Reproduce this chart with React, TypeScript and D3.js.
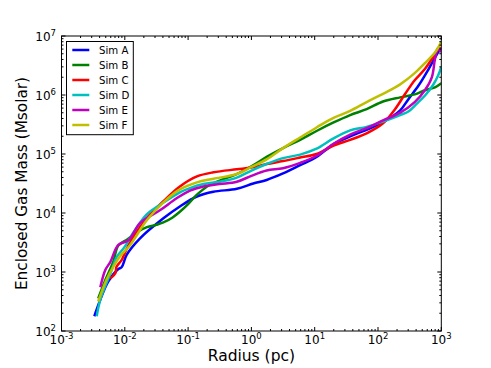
// App.tsx
// enclosed gas mass vs radius for six sims, log-log
import React from 'react';
import * as d3 from 'd3';

const W = 491;
const H = 368;

// Sim A
const radiusA = [0.0033, 0.0041, 0.0055, 0.0079, 0.0089, 0.0107, 0.0174, 0.0407, 0.0741, 0.138, 0.251, 0.589, 1.07, 1.74, 3.16, 5.89, 10.7, 19.5, 36.3, 66.1, 120, 224, 302, 437, 631, 851, 977];
const massA = [178, 339, 692, 1122, 1202, 1950, 3715, 8130, 12900, 19050, 22900, 25700, 31600, 36300, 46800, 64600, 89100, 144500, 199500, 257000, 346700, 549500, 851000, 1445000, 2754000, 4898000, 6310000];

// Sim B
const radiusB = [0.0038, 0.005, 0.0066, 0.0079, 0.0112, 0.0158, 0.0224, 0.0316, 0.0407, 0.0562, 0.0741, 0.1, 0.138, 0.2, 0.316, 0.562, 1, 1.74, 3.16, 5.89, 10.7, 19.5, 36.3, 66.1, 120, 224, 380, 550, 794, 1000];
const massB = [355, 759, 1514, 2818, 3631, 4786, 5754, 6310, 6918, 8318, 10470, 14130, 20420, 28180, 35480, 44670, 61660, 89130, 125900, 173800, 245500, 338800, 457100, 575400, 776200, 912000, 1023000, 1202000, 1349000, 1585000];

// Sim C
const radiusC = [0.0059, 0.0071, 0.0074, 0.0089, 0.01, 0.012, 0.0224, 0.0407, 0.0741, 0.138, 0.251, 0.589, 1, 1.74, 3.16, 5.89, 10.7, 19.5, 36.3, 66.1, 120, 186, 269, 380, 550, 794, 955];
const massC = [776, 955, 1230, 1585, 2089, 3162, 8318, 15850, 28180, 41690, 48980, 54950, 58880, 67610, 75860, 87100, 100000, 138000, 173800, 223900, 331100, 575400, 1047000, 1778000, 2754000, 4898000, 6607000];

// Sim D
const radiusD = [0.0036, 0.0041, 0.0062, 0.0074, 0.01, 0.0135, 0.0224, 0.0363, 0.0741, 0.107, 0.174, 0.316, 0.589, 1, 1.74, 3.16, 5.89, 10.7, 19.5, 36.3, 66.1, 120, 224, 302, 407, 562, 741, 891, 1000];
const massD = [178, 339, 1072, 1778, 2692, 4571, 9550, 13800, 22390, 26300, 30900, 33880, 39810, 52480, 67610, 85110, 97720, 123000, 182000, 251200, 288400, 354800, 457100, 524800, 707900, 1000000, 1479000, 2138000, 2951000];

// Sim E
const radiusE = [0.0041, 0.0049, 0.0059, 0.0079, 0.0115, 0.0174, 0.0363, 0.066, 0.107, 0.174, 0.316, 0.589, 1, 1.74, 3.16, 5.89, 10.7, 19.5, 36.3, 66.1, 120, 224, 380, 550, 708, 794, 871, 912, 977];
const massE = [550, 1072, 1479, 2884, 3467, 6761, 11220, 17780, 23990, 28180, 30900, 33880, 42660, 52480, 57540, 70790, 93330, 147900, 213800, 275400, 371500, 501200, 758600, 1202000, 1995000, 4074000, 6026000, 6310000, 5248000];

// Sim F
const radiusF = [0.0038, 0.0051, 0.0066, 0.0083, 0.012, 0.0224, 0.0407, 0.0741, 0.138, 0.251, 0.589, 1, 1.74, 3.16, 5.89, 10.7, 19.5, 36.3, 66.1, 120, 224, 380, 550, 794, 1000];
const massF = [316, 724, 1230, 1820, 2818, 7586, 15140, 25120, 33110, 38020, 45710, 60260, 81280, 125900, 190500, 281800, 407400, 537000, 758600, 1047000, 1514000, 2344000, 3467000, 5248000, 7943000];

const simNames = ['Sim A', 'Sim B', 'Sim C', 'Sim D', 'Sim E', 'Sim F'];
const simColors = ['#0000ff', '#008000', '#ff0000', '#00bfbf', '#bf00bf', '#bfbf00'];
const radii = [radiusA, radiusB, radiusC, radiusD, radiusE, radiusF];
const masses = [massA, massB, massC, massD, massE, massF];

const xExps = [-3, -2, -1, 0, 1, 2, 3];
const yExps = [2, 3, 4, 5, 6, 7];

const FONT = 'DejaVu Sans, sans-serif';

export default function App() {
  const left = 61.5, right = 441.3, top = 36, bottom = 331;

  const x = d3.scaleLog().domain([1e-3, 1e3]).range([left, right]);
  const y = d3.scaleLog().domain([1e2, 1e7]).range([bottom, top]);

  const line = d3.line<[number, number]>()
    .x(d => x(d[0]))
    .y(d => y(d[1]))
    .curve(d3.curveCatmullRom.alpha(0.5));

  const xMinor = x.ticks().filter(v => !xExps.some(e => Math.abs(Math.log10(v) - e) < 1e-6));
  const yMinor = y.ticks().filter(v => !yExps.some(e => Math.abs(Math.log10(v) - e) < 1e-6));

  const major = 4, minor = 2;

  return (
    <svg width={W} height={H} style={{ position: 'absolute', left: 0, top: 0, background: '#fff' }} fontFamily={FONT}>
      <defs>
        <clipPath id="plotClip">
          <rect x={left} y={top} width={right - left} height={bottom - top} />
        </clipPath>
      </defs>

      {/* curves */}
      <g clipPath="url(#plotClip)">
        {simNames.map((name, i) => (
          <path key={name}
            d={line(radii[i].map((r, j) => [r, masses[i][j]] as [number, number])) || ''}
            fill="none" stroke={simColors[i]} strokeWidth={2.5} strokeLinejoin="round" strokeLinecap="butt" />
        ))}
      </g>

      {/* ticks, inward on all sides */}
      <g stroke="#000" strokeWidth={1}>
        {xExps.map(e => {
          const px = x(Math.pow(10, e));
          return (
            <g key={'xM' + e}>
              <line x1={px} x2={px} y1={bottom} y2={bottom - major} />
              <line x1={px} x2={px} y1={top} y2={top + major} />
            </g>
          );
        })}
        {xMinor.map((v, i) => {
          const px = x(v);
          return (
            <g key={'xm' + i}>
              <line x1={px} x2={px} y1={bottom} y2={bottom - minor} />
              <line x1={px} x2={px} y1={top} y2={top + minor} />
            </g>
          );
        })}
        {yExps.map(e => {
          const py = y(Math.pow(10, e));
          return (
            <g key={'yM' + e}>
              <line x1={left} x2={left + major} y1={py} y2={py} />
              <line x1={right} x2={right - major} y1={py} y2={py} />
            </g>
          );
        })}
        {yMinor.map((v, i) => {
          const py = y(v);
          return (
            <g key={'ym' + i}>
              <line x1={left} x2={left + minor} y1={py} y2={py} />
              <line x1={right} x2={right - minor} y1={py} y2={py} />
            </g>
          );
        })}
      </g>

      {/* frame */}
      <rect x={left} y={top} width={right - left} height={bottom - top} fill="none" stroke="#000" strokeWidth={1} />

      {/* x tick labels */}
      {xExps.map(e => (
        <text key={'xl' + e} x={x(Math.pow(10, e))} y={344} textAnchor="middle" fontSize={12} fill="#000">
          10<tspan dy={-5} fontSize={8.5}>{e}</tspan>
        </text>
      ))}

      {/* y tick labels */}
      {yExps.map(e => (
        <text key={'yl' + e} x={56} y={y(Math.pow(10, e)) + 4.5} textAnchor="end" fontSize={12} fill="#000">
          10<tspan dy={-5} fontSize={8.5}>{e}</tspan>
        </text>
      ))}

      {/* axis labels */}
      <text x={(left + right) / 2} y={361} textAnchor="middle" fontSize={15.5} fill="#000">Radius (pc)</text>
      <text transform={`translate(27,${(top + bottom) / 2}) rotate(-90)`} textAnchor="middle" fontSize={15.3} fill="#000">
        Enclosed Gas Mass (Msolar)
      </text>

      {/* legend */}
      <g>
        <rect x={66.5} y={41.5} width={66.8} height={93.2} fill="#fff" stroke="#000" strokeWidth={1} />
        {simNames.map((name, i) => {
          const ly = 50 + i * 15;
          return (
            <g key={'lg' + name}>
              <line x1={72.3} x2={89.3} y1={ly} y2={ly} stroke={simColors[i]} strokeWidth={2.5} />
              <text x={99} y={ly + 3.7} fontSize={10.2} fill="#000">{name}</text>
            </g>
          );
        })}
      </g>
    </svg>
  );
}
